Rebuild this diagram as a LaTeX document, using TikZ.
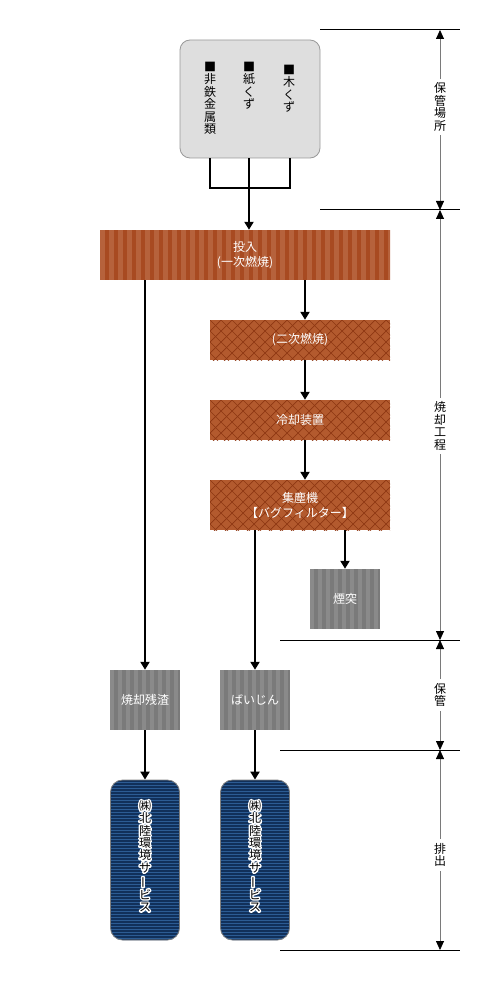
\documentclass[tikz,border=0pt]{standalone}
\usepackage{fontspec}
\newfontfamily\jp{Noto Sans CJK JP}
\newfontfamily\jphalo{Noto Sans CJK JP}[FakeBold=24]
\usetikzlibrary{arrows.meta,calc}
\definecolor{brownA}{HTML}{A84A21}
\definecolor{brownB}{HTML}{B6623C}
\definecolor{brownC}{HTML}{B35A2E}
\definecolor{brownD}{HTML}{8E3713}
\definecolor{greyA}{HTML}{7A7A7A}
\definecolor{greyB}{HTML}{8A8A8A}
\definecolor{blueA}{HTML}{2C5C94}
\definecolor{blueB}{HTML}{11305A}
\definecolor{boxgrey}{HTML}{DEDEDE}
\definecolor{dimgrey}{HTML}{7A7A7A}
\tikzset{
  conn/.style={line width=2pt,-{Triangle[width=9pt,length=8pt]}},
  plainconn/.style={line width=2pt},
  vtxt/.style={align=center,inner sep=0pt,font=\jp\fontsize{12}{12.4}\selectfont},
  vhalo/.style={align=center,inner sep=0pt,text=white,line join=round,line cap=round,font=\jphalo\fontsize{12}{12.4}\selectfont},
  wlabel/.style={text=white,align=center,font=\jp\fontsize{12}{15}\selectfont},
  hokanbox/.style={rounded corners=10pt,draw=black!40,line width=0.8pt,fill=boxgrey},
  brownv/.style={fill=brownA,
    path picture={\foreach \i in {0,9,...,300}{%
      \fill[brownB] ([xshift=\i pt]path picture bounding box.north west) rectangle ([xshift=\i pt+4.5pt]path picture bounding box.south west);}}},
  crossbox/.style={fill=brownC,
    path picture={\foreach \i in {-66,-55,...,260}{%
      \draw[brownD,line width=0.7pt] ([xshift=\i pt]path picture bounding box.north west) -- ++(60pt,-60pt);
      \draw[brownD,line width=0.7pt] ([xshift=\i pt]path picture bounding box.north west) -- ++(-60pt,-60pt);}}},
  greybox/.style={fill=greyA,
    path picture={\foreach \i in {0,8,...,100}{%
      \fill[greyB] ([xshift=\i pt]path picture bounding box.north west) rectangle ([xshift=\i pt+4pt]path picture bounding box.south west);}}},
  bluebox/.style={rounded corners=12pt,draw=black!50,line width=0.8pt,fill=blueA,
    path picture={\foreach \i in {1,4,...,170}{%
      \draw[blueB,line width=1.3pt] ([yshift=-\i pt]path picture bounding box.north west) -- ([yshift=-\i pt]path picture bounding box.north east);}}},
  dim/.style={dimgrey,line width=0.8pt,{Triangle[width=8pt,length=9pt,black]}-{Triangle[width=8pt,length=9pt,black]}},
  hline/.style={black,line width=1pt},
  dimlabel/.style={vtxt,fill=white,inner xsep=1pt,inner ysep=4pt},
}
\newcommand\halotext[3]{% #1 name, #2 position, #3 text
  \node[vhalo] (#1h) at (#2) {#3};
  \node[vtxt] (#1) at (#2) {#3};}
\begin{document}
\begin{tikzpicture}[x=1pt,y=-1pt]
\useasboundingbox (0,0) rectangle (500,1000);

% storage box
\node[hokanbox,minimum width=140pt,minimum height=118pt,inner sep=0pt] (hokan) at (250,99) {};
\node[vtxt,anchor=north] (c1) at (210,62) {■\\非\\鉄\\金\\属\\類};
\node[vtxt,anchor=north] (c2) at (249,62) {■\\紙\\く\\ず};
\node[vtxt,anchor=north] (c3) at (289,65) {■\\木\\く\\ず};

% process boxes
\node[brownv,minimum width=290pt,minimum height=50pt,inner sep=0pt] (tounyu) at (245,255) {};
\node[wlabel] (tounyuL) at (tounyu) {投入\\(一次燃焼)};
\node[crossbox,minimum width=180pt,minimum height=40pt,inner sep=0pt] (niji) at (300,340) {};
\node[wlabel] (nijiL) at (niji) {(二次燃焼)};
\node[crossbox,minimum width=180pt,minimum height=40pt,inner sep=0pt] (reikyaku) at (300,420) {};
\node[wlabel] (reikyakuL) at (reikyaku) {冷却装置};
\node[crossbox,minimum width=180pt,minimum height=50pt,inner sep=0pt] (shujin) at (300,505) {};
\node[wlabel] (shujinL) at (shujin) {集塵機\\【バグフィルター】};
\node[greybox,minimum width=70pt,minimum height=60pt,inner sep=0pt] (entotsu) at (345,599) {};
\node[wlabel] (entotsuL) at (entotsu) {煙突};
\node[greybox,minimum width=70pt,minimum height=60pt,inner sep=0pt] (zansa) at (145,700) {};
\node[wlabel] (zansaL) at (zansa) {焼却残渣};
\node[greybox,minimum width=70pt,minimum height=60pt,inner sep=0pt] (baijin) at (255,700) {};
\node[wlabel] (baijinL) at (baijin) {ばいじん};
\node[bluebox,minimum width=69pt,minimum height=160pt,inner sep=0pt] (out1) at (145,860) {};
\node[bluebox,minimum width=69pt,minimum height=160pt,inner sep=0pt] (out2) at (255,860) {};
\coordinate (g1) at ($(out1)+(0,-4)$);
\coordinate (g2) at ($(out2)+(0,-4)$);
\halotext{out1L}{g1}{㈱\\北\\陸\\環\\境\\サ\\\rotatebox[origin=c]{90}{ー}\\ビ\\ス}
\halotext{out2L}{g2}{㈱\\北\\陸\\環\\境\\サ\\\rotatebox[origin=c]{90}{ー}\\ビ\\ス}

% connectors from storage
\coordinate (j1) at ([xshift=-40pt]hokan.south);
\coordinate (j3) at ([xshift=40pt]hokan.south);
\coordinate (k1) at ($(j1)+(0,30)$);
\coordinate (k3) at ($(j3)+(0,30)$);
\draw[plainconn] (j1) -- (k1) -- (k3) -- (j3);
\draw[conn] ([xshift=-1pt]hokan.south) -- ([xshift=-1pt]hokan.south |- tounyu.north);

\draw[conn] ([xshift=5pt]niji.north |- tounyu.south) -- ([xshift=5pt]niji.north);
\draw[conn] ([xshift=5pt]niji.south) -- ([xshift=5pt]reikyaku.north);
\draw[conn] ([xshift=5pt]reikyaku.south) -- ([xshift=5pt]shujin.north);
\draw[conn] (entotsu.north |- shujin.south) -- (entotsu.north);
\draw[conn] (baijin.north |- shujin.south) -- (baijin.north);
\draw[conn] (zansa.north |- tounyu.south) -- (zansa.north);
\draw[conn] (zansa.south) -- (out1.north);
\draw[conn] (baijin.south) -- (out2.north);

% dimension lines
\draw[hline] (320,30) -- (460,30);
\draw[hline] (320,210) -- (460,210);
\draw[hline] (280,640) -- (460,640);
\draw[hline] (280,750) -- (460,750);
\draw[hline] (280,950) -- (460,950);
\coordinate (d0) at (440,30);
\coordinate (d1) at (440,210);
\coordinate (d2) at (440,640);
\coordinate (d3) at (440,750);
\coordinate (d4) at (440,950);
\draw[dim] (d0) -- (d1);
\draw[dim] (d1) -- (d2);
\draw[dim] (d2) -- (d3);
\draw[dim] (d3) -- (d4);
\node[dimlabel] (lab1) at (440,107) {保\\管\\場\\所};
\node[dimlabel] (lab2) at (440,426) {焼\\却\\工\\程};
\node[dimlabel] (lab3) at (440,695) {保\\管};
\node[dimlabel] (lab4) at (440,855) {排\\出};
\end{tikzpicture}
\end{document}
